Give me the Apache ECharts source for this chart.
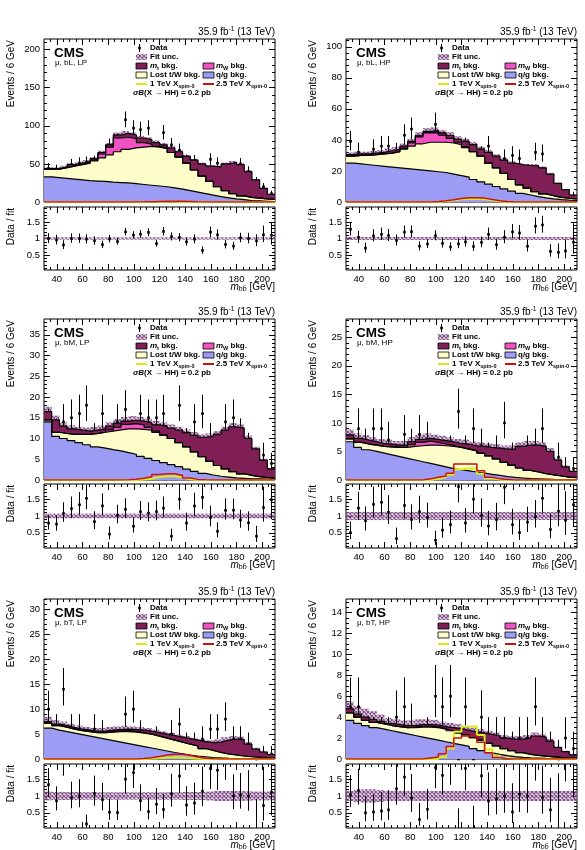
<!DOCTYPE html>
<html>
<head>
<meta charset="utf-8">
<script src="https://cdn.jsdelivr.net/npm/echarts@6/dist/echarts.min.js"></script>
<style>
  html, body { margin: 0; padding: 0; background: #fff; }
  #chart { width: 585px; height: 850px; }
</style>
</head>
<body>
<div id="chart"></div>
<script>
// bin edges of m_bb (GeV), 6 GeV bins
const binEdges = [30,36,42,48,54,60,66,72,78,84,90,96,102,108,114,120,126,132,138,144,150,156,162,168,174,180,186,192,198,204,210];
const xTicks = [40,60,80,100,120,140,160,180,200];
const ratioTicks = [0.5,1,1.5];

// mu, bL, LP
const bLLP_qg   = [33,32,31,30,29,28,27.5,27,26,25.5,25,24,23,22,21,20,18.5,17,15,13,11,9,7,5.5,4,3,2,1.5,1,0.5];
const bLLP_lost = [10,11,14,17,20,23,26.5,31,36,40.5,44,47,49,51,51,50,46.5,42,36,29,23,18,13,9.5,7,5,4,3.5,3,3];
const bLLP_mW   = [0,0,0,0.5,0.5,0.5,1,5,10,18,16,12,6,3,1,0.5,0,0,0,0,0,0,0,0,0,0,0,0,0,0];
const bLLP_mt   = [1,1,1,1.5,1.5,1.5,2,2,3,4,5,5,6,6,5,4.5,6,7,9,13,16,20,26,35,41,41,34,24,14,6.5];
const bLLP_data = [44,42,37,49,51,52,53,53,74,80,108,97,95,97,66,91,75,68,54,54,32,56,51,41,40,50,40,27,20,11];
const bLLP_sig1 = [0,0,0,0,0,0,0,0,0,0,0,0,0.1,0.2,0.4,0.5,0.5,0.4,0.2,0.1,0,0,0,0,0,0,0,0,0,0];
const bLLP_sig2 = [0,0,0,0,0,0,0,0,0,0,0,0.1,0.2,0.4,0.7,0.9,1.0,0.9,0.6,0.3,0.1,0,0,0,0,0,0,0,0,0];
const bLLP_unc  = [0.035,0.035,0.035,0.035,0.035,0.035,0.035,0.035,0.035,0.035,0.035,0.035,0.035,0.035,0.035,0.035,0.035,0.035,0.035,0.035,0.035,0.035,0.035,0.035,0.035,0.035,0.035,0.035,0.035,0.035];
const bLLP_yTicks = [0,50,100,150,200];

// mu, bL, HP
const bLHP_qg   = [25,24.5,24,23.5,23,22.5,22,21.5,21,20.5,20,19.5,19,18,17,16,14.5,13,11.5,10,8.5,7,5.5,4.5,3.5,2.7,2,1.5,1.2,1];
const bLHP_lost = [4.5,5.5,6,7,8,9,10.5,12.5,15,17,18.5,19,19.5,20,20,19,18,16.5,13.5,12,10,7.5,5.5,4.5,3.2,2.5,2,1.5,1.2,1];
const bLHP_mW   = [0,0,0,0,0,0,0,0.5,2,4.5,6,6,4.5,3,1.5,0.5,0,0,0,0,0,0,0,0,0,0,0,0,0,0];
const bLHP_mt   = [1,1,1,1,1,1.5,1.5,1.5,1,1,1,1.5,1.5,2,2,3.5,4.5,4.5,7,7.5,8.5,10.5,13,14.5,16.6,16.8,14,9,5.6,2.5];
const bLHP_data = [39,32,22,34,36,36,32,43,47,33,38,50,38,32,34,35,28,30,36,24,28,30,28,18,32,31,11,7,5,4];
const bLHP_sig1 = [0,0,0,0,0,0,0,0,0,0,0,0.2,0.6,1.1,1.7,2.0,2.0,1.8,1.1,0.5,0.2,0,0,0,0,0,0,0,0,0];
const bLHP_sig2 = [0,0,0,0,0,0,0,0,0,0,0,0.3,0.8,1.5,2.3,2.7,2.8,2.5,1.6,0.8,0.3,0,0,0,0,0,0,0,0,0];
const bLHP_unc  = [0.045,0.045,0.045,0.045,0.045,0.045,0.045,0.045,0.045,0.045,0.045,0.045,0.045,0.045,0.045,0.045,0.045,0.045,0.045,0.045,0.045,0.045,0.045,0.045,0.045,0.045,0.045,0.045,0.045,0.045];
const bLHP_yTicks = [0,20,40,60,80,100];

// mu, bM, LP
const bMLP_qg   = [14,10.5,10,9.5,9,8.5,8,7.7,7.3,7,6.6,6.2,5.7,5.2,4.7,4.2,3.7,3.2,2.6,2.1,1.6,1.2,0.9,0.7,0.5,0.4,0.3,0.25,0.2,0.15];
const bMLP_lost = [0.5,1,1.2,1.5,2,2.5,3.2,3.8,4.5,5.1,5.7,6.1,6.5,6.8,6.8,6.6,6.3,5.8,5.4,4.7,4,3.3,2.6,2,1.5,1.1,0.8,0.55,0.4,0.25];
const bMLP_mW   = [0,0,0,0,0,0,0,0,0.3,0.6,1.1,1.3,1.1,0.7,0.3,0,0,0,0,0,0,0,0,0,0,0,0,0,0,0];
const bMLP_mt   = [2,3,1.8,1.3,1,0.8,0.8,0.8,0.9,1,0.8,0.8,0.9,1.1,1.5,2.2,2.5,3,3.4,4,4.7,6,7.5,9.3,10.8,11,8.9,6.7,4.2,2.3];
const bMLP_data = [13,11,14,15,16,18,10,16,6,14,17,10,16,15,15,16,5,18,9,14,16,10,6,14,15,11,8,3,6,4];
const bMLP_sig1 = [0,0,0,0,0,0,0,0,0,0,0,0,0.1,0.3,0.7,0.9,0.9,0.6,0.2,0.05,0,0,0,0,0,0,0,0,0,0];
const bMLP_sig2 = [0,0,0,0,0,0,0,0,0,0,0.05,0.2,0.4,0.8,1.3,1.5,1.5,1.1,0.5,0.15,0.05,0,0,0,0,0,0,0,0,0];
const bMLP_unc  = [0.07,0.07,0.07,0.07,0.07,0.07,0.07,0.07,0.07,0.07,0.07,0.07,0.07,0.07,0.07,0.07,0.07,0.07,0.07,0.07,0.07,0.07,0.07,0.07,0.07,0.07,0.07,0.07,0.07,0.07];
const bMLP_yTicks = [0,5,10,15,20,25,30,35];

// mu, bM, HP
const bMHP_qg   = [6.7,5.7,5.3,5,4.7,4.4,4.1,3.8,3.5,3.2,2.9,2.6,2.3,2,1.8,1.6,1.4,1.2,1,0.8,0.6,0.45,0.35,0.25,0.2,0.15,0.1,0.08,0.06,0.05];
const bMHP_lost = [0.5,0.9,1,1.1,1.2,1.4,1.6,1.9,2.4,2.8,3.2,3.5,3.7,3.9,3.9,3.8,3.7,3.5,3.2,2.9,2.5,2.15,1.75,1.45,1.2,0.95,0.8,0.62,0.44,0.35];
const bMHP_mW   = [0,0,0,0,0,0,0,0,0.3,0.6,0.7,0.5,0.3,0.15,0,0,0,0,0,0,0,0,0,0,0,0,0,0,0,0];
const bMHP_mt   = [0.7,0.7,0.7,0.6,0.5,0.5,0.4,0.4,0.5,0.5,0.5,0.5,0.6,0.65,0.7,0.9,0.9,1.2,1.5,1.9,2.3,2.8,3.8,4.4,4.7,4.8,4.1,2.8,1.8,1.1];
const bMHP_data = [4,9,6,9,9,7,2,8,6,8,7,2,4,5,12,5,9,6,4,5,10,4,3,5,6,9,3,4,2,2];
const bMHP_sig1 = [0,0,0,0,0,0,0,0,0,0,0,0.2,0.5,0.9,1.9,2.0,2.0,1.1,0.3,0.1,0,0,0,0,0,0,0,0,0,0];
const bMHP_sig2 = [0,0,0,0,0,0,0,0,0,0,0.2,0.5,0.7,1.2,2.8,2.8,2.8,1.6,0.5,0.2,0.1,0,0,0,0,0,0,0,0,0];
const bMHP_unc  = [0.12,0.12,0.12,0.12,0.12,0.12,0.12,0.12,0.12,0.12,0.12,0.12,0.12,0.12,0.12,0.12,0.12,0.12,0.12,0.12,0.12,0.12,0.12,0.12,0.12,0.12,0.12,0.12,0.12,0.12];
const bMHP_yTicks = [0,5,10,15,20,25];

// mu, bT, LP
const bTLP_qg   = [6.2,5.8,5.5,5.2,4.9,4.6,4.3,4.0,3.7,3.4,3.1,2.8,2.5,2.2,1.9,1.6,1.3,1.05,0.8,0.6,0.45,0.3,0.22,0.15,0.1,0.08,0.06,0.05,0.04,0.03];
const bTLP_lost = [1,0.9,0.9,0.8,0.8,0.9,1,1.3,1.7,2.1,2.4,2.6,2.7,2.8,2.7,2.6,2.5,2.35,2.2,2,1.65,1.4,1.08,0.85,0.7,0.52,0.39,0.3,0.21,0.17];
const bTLP_mW   = [0,0,0,0,0,0,0,0,0.1,0.15,0.2,0.15,0.1,0,0,0,0,0,0,0,0,0,0,0,0,0,0,0,0,0];
const bTLP_mt   = [0.3,0.3,0.3,0.3,0.3,0.3,0.3,0.3,0.3,0.25,0.3,0.35,0.5,0.6,0.7,0.8,0.9,1.0,1.1,1.2,1.4,1.6,2.1,2.8,3.2,3.3,2.55,1.65,1.15,0.7];
const bTLP_data = [10,6,14,6,6,1,6,5,3,3,9,10,5,3,4,3,5,7,3,3,4,6,6,8,4,4,3,0,1,1];
const bTLP_sig1 = [0,0,0,0,0,0,0,0,0,0,0,0,0,0.1,0.2,0.3,0.35,0.3,0.2,0.1,0,0,0,0,0,0,0,0,0,0];
const bTLP_sig2 = [0,0,0,0,0,0,0,0,0,0,0,0,0.1,0.25,0.5,0.8,0.95,0.95,0.75,0.4,0.15,0.05,0,0,0,0,0,0,0,0];
const bTLP_unc  = [0.13,0.12,0.12,0.12,0.12,0.11,0.11,0.11,0.11,0.11,0.11,0.11,0.11,0.11,0.11,0.11,0.11,0.11,0.12,0.12,0.12,0.13,0.15,0.15,0.15,0.15,0.14,0.13,0.13,0.13];
const bTLP_yTicks = [0,5,10,15,20,25,30];

// mu, bT, HP
const bTHP_qg   = [3.7,3.4,3.2,3.0,2.85,2.7,2.55,2.4,2.25,2.1,1.95,1.8,1.65,1.5,1.35,1.2,1.0,0.8,0.6,0.45,0.32,0.22,0.15,0.1,0.08,0.06,0.05,0.04,0.03,0.02];
const bTHP_lost = [0.7,0.6,0.5,0.5,0.5,0.5,0.55,0.6,0.75,0.95,1.1,1.2,1.2,1.2,1.15,1.1,1.05,1.0,0.9,0.8,0.68,0.58,0.45,0.35,0.27,0.21,0.15,0.11,0.09,0.08];
const bTHP_mW   = [0,0,0,0,0,0,0,0,0.05,0.08,0.1,0.08,0.05,0,0,0,0,0,0,0,0,0,0,0,0,0,0,0,0,0];
const bTHP_mt   = [0.4,0.3,0.3,0.3,0.25,0.2,0.2,0.2,0.15,0.17,0.15,0.17,0.2,0.3,0.4,0.45,0.55,0.7,0.85,0.95,1.0,1.1,1.3,1.55,1.85,1.83,1.5,0.95,0.58,0.3];
const bTHP_data = [5,5,2,2,2,2,4,5,3,1,2,6,5,6,0,5,0,4,2,2,2,1,2,2,5,2,1,0,2,1];
const bTHP_sig1 = [0,0,0,0,0,0,0,0,0,0,0,0,0.2,1.0,2.6,3.1,3.1,2.3,0.9,0.3,0.1,0,0,0,0,0,0,0,0,0];
const bTHP_sig2 = [0,0,0,0,0,0,0,0,0,0,0.1,0.2,0.5,1.2,2.0,2.2,2.2,1.6,0.6,0.15,0,0,0,0,0,0,0,0,0,0];
const bTHP_unc  = [0.15,0.18,0.2,0.2,0.18,0.15,0.15,0.15,0.15,0.15,0.15,0.15,0.15,0.15,0.15,0.15,0.15,0.15,0.15,0.15,0.15,0.15,0.15,0.15,0.15,0.15,0.15,0.15,0.15,0.15];
const bTHP_yTicks = [0,2,4,6,8,10,12,14];

const panels = [
  { label: 'μ, bL, LP', qg: bLLP_qg, lost: bLLP_lost, mW: bLLP_mW, mt: bLLP_mt, data: bLLP_data, s1: bLLP_sig1, s2: bLLP_sig2, unc: bLLP_unc, yTicks: bLLP_yTicks, yMax: 214, yMinor: 10 },
  { label: 'μ, bL, HP', qg: bLHP_qg, lost: bLHP_lost, mW: bLHP_mW, mt: bLHP_mt, data: bLHP_data, s1: bLHP_sig1, s2: bLHP_sig2, unc: bLHP_unc, yTicks: bLHP_yTicks, yMax: 105, yMinor: 4 },
  { label: 'μ, bM, LP', qg: bMLP_qg, lost: bMLP_lost, mW: bMLP_mW, mt: bMLP_mt, data: bMLP_data, s1: bMLP_sig1, s2: bMLP_sig2, unc: bMLP_unc, yTicks: bMLP_yTicks, yMax: 38.8, yMinor: 1 },
  { label: 'μ, bM, HP', qg: bMHP_qg, lost: bMHP_lost, mW: bMHP_mW, mt: bMHP_mt, data: bMHP_data, s1: bMHP_sig1, s2: bMHP_sig2, unc: bMHP_unc, yTicks: bMHP_yTicks, yMax: 28.2, yMinor: 1 },
  { label: 'μ, bT, LP', qg: bTLP_qg, lost: bTLP_lost, mW: bTLP_mW, mt: bTLP_mt, data: bTLP_data, s1: bTLP_sig1, s2: bTLP_sig2, unc: bTLP_unc, yTicks: bTLP_yTicks, yMax: 32.1, yMinor: 1 },
  { label: 'μ, bT, HP', qg: bTHP_qg, lost: bTHP_lost, mW: bTHP_mW, mt: bTHP_mt, data: bTHP_data, s1: bTHP_sig1, s2: bTHP_sig2, unc: bTHP_unc, yTicks: bTHP_yTicks, yMax: 15.3, yMinor: 0.5 }
];

const FONT = "'Liberation Sans', Arial, Helvetica, sans-serif";
const C_QG = '#9c9cf4', C_LOST = '#fdfdc9', C_MW = '#f052c2', C_MT = '#7f1f55';
const C_S1 = '#d6ee1a', C_S2 = '#cc1111', C_HATCH = '#7e4c86';

const COL_X = [44, 346], PLOT_W = 231;
const MAIN_TOP = [39, 319, 599], MAIN_H = [163, 161, 160];
const RAT_TOP = [207, 484, 764], RAT_H = [63, 64, 64];

function hatchPattern() {
    const c = document.createElement('canvas')
    c.width = 4; c.height = 4
    const g = c.getContext('2d')
    g.fillStyle = 'rgba(200,150,200,0.35)'
    g.fillRect(0, 0, 4, 4)
    g.strokeStyle = C_HATCH
    g.lineWidth = 1.1
    g.beginPath()
    g.moveTo(0, 0); g.lineTo(4, 4)
    g.moveTo(4, 0); g.lineTo(0, 4)
    g.stroke()
    return { type: 'pattern', image: c, repeat: 'repeat' }
}
const HATCH = hatchPattern()

function steps(a, b, st) {
    const out = []
    for (let v = a; v <= b + 1e-9; v += st) out.push(Math.round(v * 1000) / 1000)
    return out
}
const xMinor = steps(35, 205, 5).filter(v => xTicks.indexOf(v) < 0)
const ratioMinor = steps(0.1, 1.9, 0.1).filter(v => !ratioTicks.some(t => Math.abs(t - v) < 1e-6))

const option = { animation: false, grid: [], xAxis: [], yAxis: [], series: [], graphic: [] }

function tickAxis(grid, pos, min, max, vals, len, labels) {
    return {
        type: 'value', gridIndex: grid, position: pos, min: min, max: max,
        axisLine: { show: false, onZero: false },
        splitLine: { show: false },
        axisTick: { show: true, inside: true, length: len, customValues: vals, lineStyle: { color: '#000', width: 1 } },
        axisLabel: labels
            ? { show: true, customValues: vals, margin: 4, color: '#000', fontSize: 9.5, fontFamily: FONT,
                formatter: v => String(Math.round(v * 100) / 100) }
            : { show: false }
    }
}

function addAxes(grid, xLabels, yMin, yMax, yMajor, yMinorVals) {
    const xi = option.xAxis.length, yi = option.yAxis.length
    option.xAxis.push(tickAxis(grid, 'bottom', 30, 210, xTicks, 6, xLabels))
    option.xAxis.push(tickAxis(grid, 'bottom', 30, 210, xMinor, 3, false))
    option.xAxis.push(tickAxis(grid, 'top', 30, 210, xTicks, 6, false))
    option.xAxis.push(tickAxis(grid, 'top', 30, 210, xMinor, 3, false))
    option.yAxis.push(tickAxis(grid, 'left', yMin, yMax, yMajor, 6, true))
    option.yAxis.push(tickAxis(grid, 'left', yMin, yMax, yMinorVals, 3, false))
    option.yAxis.push(tickAxis(grid, 'right', yMin, yMax, yMajor, 6, false))
    option.yAxis.push(tickAxis(grid, 'right', yMin, yMax, yMinorVals, 3, false))
    return [xi, yi]
}

function stepLine(xi, yi, vals, extra) {
    return Object.assign({
        type: 'line', xAxisIndex: xi, yAxisIndex: yi, step: 'end', symbol: 'none', showSymbol: false, silent: true,
        data: binEdges.map((x, i) => [x, vals[Math.min(i, vals.length - 1)]]),
        lineStyle: { color: '#000', width: 1.2 }
    }, extra)
}

function bandSeries(xi, yi, lo, hi) {
    return {
        type: 'custom', xAxisIndex: xi, yAxisIndex: yi, silent: true,
        data: lo.map((v, i) => [binEdges[i], binEdges[i + 1], v, hi[i]]),
        renderItem(params, api) {
            const cs = params.coordSys
            const a = api.coord([api.value(0), api.value(3)])
            const b = api.coord([api.value(1), api.value(2)])
            const top = Math.max(cs.y, a[1]), bot = Math.min(cs.y + cs.height, b[1])
            if (bot <= top) return
            return { type: 'rect', shape: { x: a[0], y: top, width: b[0] - a[0], height: bot - top }, style: { fill: HATCH } }
        }
    }
}

function dataSeries(xi, yi, rows) {
    return {
        type: 'custom', xAxisIndex: xi, yAxisIndex: yi, silent: true, data: rows,
        renderItem(params, api) {
            const cs = params.coordSys
            const x = api.value(0)
            const c = api.coord([x, api.value(1)])
            const lo = api.coord([x, api.value(2)])[1]
            const hi = api.coord([x, api.value(3)])[1]
            const top = cs.y, bot = cs.y + cs.height
            const y1 = Math.max(top, Math.min(bot, hi)), y2 = Math.max(top, Math.min(bot, lo))
            const px = Math.round(c[0]) + 0.5
            const kids = []
            if (y2 > y1) kids.push({ type: 'line', shape: { x1: px, y1: y1, x2: px, y2: y2 }, style: { stroke: '#000', lineWidth: 1 } })
            if (c[1] >= top - 0.5 && c[1] <= bot + 0.5)
                kids.push({ type: 'rect', shape: { x: px - 1.3, y: c[1] - 1.3, width: 2.6, height: 2.6 }, style: { fill: '#000' } })
            return { type: 'group', children: kids }
        }
    }
}

// Poisson-style interval for the counts
function errUp(n) { return n === 0 ? 1.84 : 0.5 + Math.sqrt(n + 0.25) }
function errDn(n) { return n === 0 ? 0 : Math.sqrt(n + 0.25) - 0.5 }

const legRich = {
    i: { fontStyle: 'italic', fontWeight: 'bold', fontSize: 8, fontFamily: FONT, lineHeight: 10 },
    s: { fontWeight: 'bold', fontSize: 5.5, fontFamily: FONT, lineHeight: 5, verticalAlign: 'bottom' }
}

function text(x, y, str, style, extra) {
    return Object.assign({
        type: 'text', x: x, y: y, silent: true,
        style: Object.assign({ text: str, fill: '#000', fontFamily: FONT, fontSize: 8, align: 'left', verticalAlign: 'middle' }, style)
    }, extra || {})
}
function box(x, y, w, h, fill, stroke) {
    return { type: 'rect', silent: true, shape: { x: x, y: y, width: w, height: h }, style: { fill: fill, stroke: stroke || null, lineWidth: 0.8 } }
}
function seg(x1, y1, x2, y2, color, w) {
    return { type: 'line', silent: true, shape: { x1: x1, y1: y1, x2: x2, y2: y2 }, style: { stroke: color, lineWidth: w } }
}

panels.forEach((p, k) => {
    const col = k % 2, row = Math.floor(k / 2)
    const x0 = COL_X[col], y0 = MAIN_TOP[row]

    const gM = option.grid.length
    option.grid.push({ left: x0, top: y0, width: PLOT_W, height: MAIN_H[row], show: true, borderColor: '#000', borderWidth: 1, backgroundColor: 'transparent', outerBoundsMode: 'none' })
    const gR = option.grid.length
    option.grid.push({ left: x0, top: RAT_TOP[row], width: PLOT_W, height: RAT_H[row], show: true, borderColor: '#000', borderWidth: 1, backgroundColor: 'transparent', outerBoundsMode: 'none' })

    const yMinorVals = steps(p.yMinor, p.yMax, p.yMinor).filter(v => !p.yTicks.some(t => Math.abs(t - v) < 1e-6))
    const [mx, my] = addAxes(gM, false, 0, p.yMax, p.yTicks, yMinorVals)
    const [rx, ry] = addAxes(gR, true, 0.05, 1.95, ratioTicks, ratioMinor)

    // stacked sums
    const c1 = p.qg
    const c2 = c1.map((v, i) => v + p.lost[i])
    const c3 = c2.map((v, i) => v + p.mW[i])
    const c4 = c3.map((v, i) => v + p.mt[i])

    const area = (vals, color) => stepLine(mx, my, vals, { areaStyle: { color: color, opacity: 1, origin: 'start' }, lineStyle: { opacity: 0, width: 0 } })
    option.series.push(area(c4, C_MT), area(c3, C_MW), area(c2, C_LOST), area(c1, C_QG))
    option.series.push(stepLine(mx, my, c1), stepLine(mx, my, c2), stepLine(mx, my, c3), stepLine(mx, my, c4))

    option.series.push(bandSeries(mx, my, c4.map((v, i) => v * (1 - p.unc[i])), c4.map((v, i) => v * (1 + p.unc[i]))))
    option.series.push(stepLine(mx, my, p.s1, { lineStyle: { color: C_S1, width: 2 } }))
    option.series.push(stepLine(mx, my, p.s2, { lineStyle: { color: C_S2, width: 1.5 } }))

    const centers = p.data.map((n, i) => (binEdges[i] + binEdges[i + 1]) / 2)
    option.series.push(dataSeries(mx, my, p.data.map((n, i) => [centers[i], n, n - errDn(n), n + errUp(n)])))

    // ratio panel
    option.series.push(bandSeries(rx, ry, p.unc.map(u => 1 - u), p.unc.map(u => 1 + u)))
    option.series.push(dataSeries(rx, ry, p.data.map((n, i) => [centers[i], n / c4[i], (n - errDn(n)) / c4[i], (n + errUp(n)) / c4[i]])))

    // texts
    const G = option.graphic
    G.push(text(x0 + PLOT_W, y0 - 7, '35.9 fb{u|-1} (13 TeV)', {
        align: 'right', fontSize: 10, lineHeight: 12,
        rich: { u: { fontSize: 6.5, fontFamily: FONT, lineHeight: 6, verticalAlign: 'top' } }
    }))
    G.push(text(x0 - 33, y0 + 1, 'Events / 6 GeV', { align: 'right', fontSize: 10 }, { rotation: Math.PI / 2 }))
    G.push(text(x0 - 33, RAT_TOP[row] + 1, 'Data / fit', { align: 'right', fontSize: 10 }, { rotation: Math.PI / 2 }))
    G.push(text(x0 + PLOT_W, RAT_TOP[row] + RAT_H[row] + 17, '{i|m}{s|bb\u0304} [GeV]', {
        align: 'right', fontSize: 10, lineHeight: 12,
        rich: {
            i: { fontStyle: 'italic', fontSize: 10, fontFamily: FONT, lineHeight: 12 },
            s: { fontSize: 7, fontFamily: FONT, lineHeight: 7, verticalAlign: 'bottom' }
        }
    }))
    G.push(text(x0 + 10, y0 + 14, 'CMS', { fontSize: 13.5, fontWeight: 'bold' }))
    G.push(text(x0 + 11, y0 + 24, p.label, { fontSize: 8 }))

    // legend
    const lx = x0 + 92, lx2 = x0 + 159
    const bold = { fontWeight: 'bold', fontSize: 8, lineHeight: 10, rich: legRich }
    G.push(seg(lx + 3.5, y0 + 5, lx + 3.5, y0 + 13, '#000', 1), box(lx + 2.2, y0 + 7.7, 2.6, 2.6, '#000'))
    G.push(text(lx + 14, y0 + 9, 'Data', bold))
    G.push(box(lx, y0 + 15, 11, 6, HATCH))
    G.push(text(lx + 14, y0 + 18, 'Fit unc.', bold))
    G.push(box(lx, y0 + 24, 11, 6, C_MT, '#000'))
    G.push(text(lx + 14, y0 + 27, '{i|m}{s|t} bkg.', bold))
    G.push(box(lx2, y0 + 24, 11, 6, C_MW, '#000'))
    G.push(text(lx2 + 13, y0 + 27, '{i|m}{s|W} bkg.', bold))
    G.push(box(lx, y0 + 33, 11, 6, C_LOST, '#000'))
    G.push(text(lx + 14, y0 + 36, 'Lost t/W bkg.', bold))
    G.push(box(lx2, y0 + 33, 11, 6, C_QG, '#000'))
    G.push(text(lx2 + 13, y0 + 36, 'q/g bkg.', bold))
    G.push(seg(lx, y0 + 45, lx + 11, y0 + 45, C_S1, 2))
    G.push(text(lx + 14, y0 + 45, '1 TeV X{s|spin-0}', bold))
    G.push(seg(lx2, y0 + 45, lx2 + 11, y0 + 45, C_S2, 2))
    G.push(text(lx2 + 13, y0 + 45, '2.5 TeV X{s|spin-0}', bold))
    G.push(text(x0 + 89, y0 + 54, '{i|σB}(X \u2192 HH) = 0.2 pb', bold))
})

const chart = echarts.init(document.getElementById('chart'), null, { renderer: 'canvas' })
chart.setOption(option)
</script>
</body>
</html>
